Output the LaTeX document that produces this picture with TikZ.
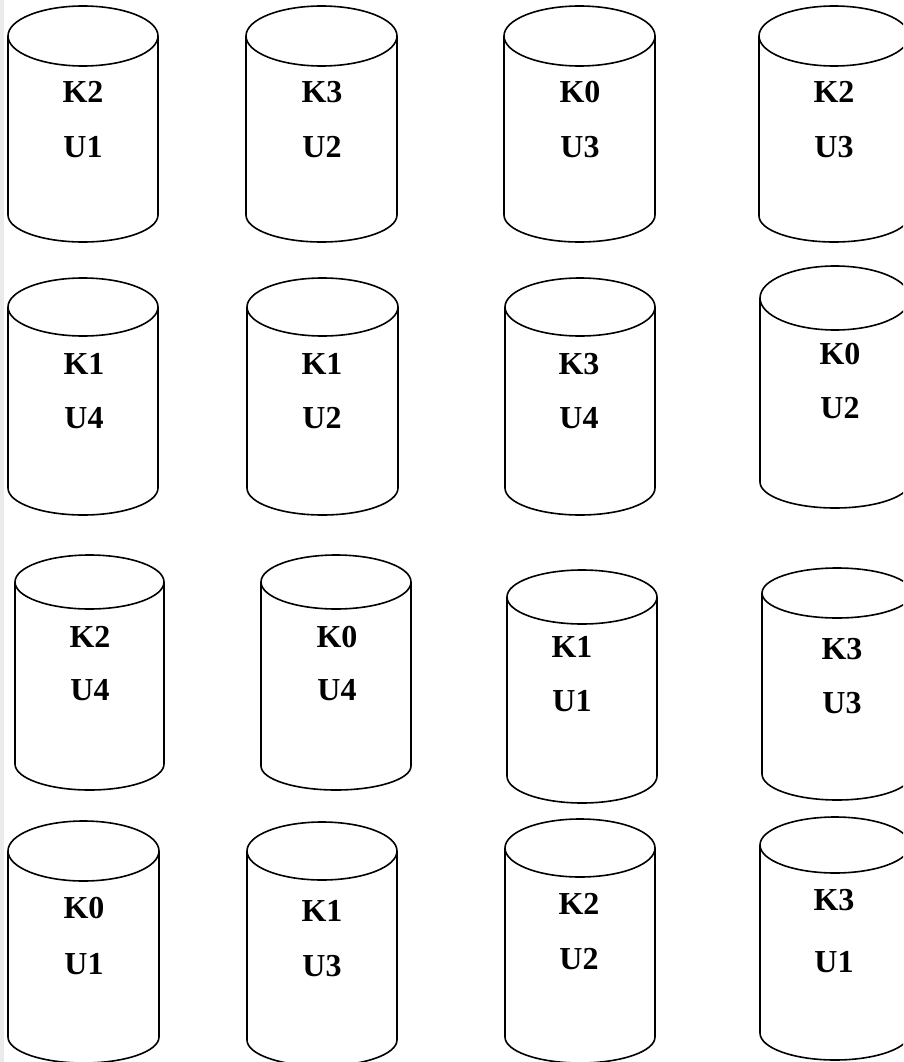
\documentclass[tikz,border=0pt]{standalone}
\usepackage{fontspec}
\setmainfont{Liberation Serif}
\tikzset{
  cylline/.style={line width=1.6pt, draw=black, fill=white},
  lbl/.style={font=\fontsize{32}{34}\selectfont\bfseries, inner sep=0pt, anchor=center},
}
% #1 L, #2 R, #3 top, #4 mid, #5 side bottom, #6 bottom
\newcommand{\mycyl}[6]{%
  \pgfmathsetmacro{\cx}{(#1+#2)/2}%
  \pgfmathsetmacro{\rx}{(#2-#1)/2}%
  \pgfmathsetmacro{\rt}{#4-#3}%
  \pgfmathsetmacro{\rb}{#6-#5}%
  \draw[cylline] (#1,#4) -- (#1,#5) arc[start angle=180, end angle=0, x radius=\rx, y radius=\rb] -- (#2,#4);
  \draw[cylline] (\cx,#4) ellipse[x radius=\rx, y radius=\rt];
}
\begin{document}
\begin{tikzpicture}[x=1pt,y=-1pt]
\useasboundingbox (0,0) rectangle (903,1062);
\clip (0,0) rectangle (903,1062);
\fill[black!8] (0,0) rectangle (4,1062);
% row 1
\mycyl{8}{158}{6}{36}{215}{242}
\mycyl{246}{397}{6}{36}{215}{242}
\mycyl{504}{655}{6}{36}{215}{242}
\mycyl{759}{909}{6}{36}{216}{242}
\node[lbl] (k1) at (83,92) {K2};  \node[lbl] (u1) at (83,147) {U1};
\node[lbl] (k2) at (322,92) {K3}; \node[lbl] (u2) at (322,147) {U2};
\node[lbl] (k3) at (580,92) {K0}; \node[lbl] (u3) at (580,147) {U3};
\node[lbl] (k4) at (834,92) {K2}; \node[lbl] (u4) at (834,147) {U3};
% row 2
\mycyl{8}{158}{278}{307}{488}{515}
\mycyl{247}{398}{278}{307}{488}{515}
\mycyl{505}{655}{278}{307}{488}{515}
\mycyl{760}{910}{266}{298}{482}{508}
\node[lbl] (k5) at (84,364) {K1};  \node[lbl] (u5) at (84,418) {U4};
\node[lbl] (k6) at (322,364) {K1}; \node[lbl] (u6) at (322,418) {U2};
\node[lbl] (k7) at (579,364) {K3}; \node[lbl] (u7) at (579,418) {U4};
\node[lbl] (k8) at (840,354) {K0}; \node[lbl] (u8) at (840,408) {U2};
% row 3
\mycyl{15}{164}{555}{582}{764}{790}
\mycyl{261}{411}{555}{582}{766}{790}
\mycyl{507}{657}{570}{597}{776}{803}
\mycyl{762}{912}{568}{593}{774}{800}
\node[lbl] (k9) at (90,637) {K2};   \node[lbl] (u9) at (90,690) {U4};
\node[lbl] (k10) at (337,637) {K0}; \node[lbl] (u10) at (337,690) {U4};
\node[lbl] (k11) at (572,647) {K1}; \node[lbl] (u11) at (572,701) {U1};
\node[lbl] (k12) at (842,649) {K3}; \node[lbl] (u12) at (842,703) {U3};
% row 4
\mycyl{8}{159}{821}{851}{1037}{1063}
\mycyl{247}{397}{822}{851}{1040}{1066}
\mycyl{505}{655}{819}{848}{1037}{1063}
\mycyl{760}{910}{817}{845}{1033}{1060}
\node[lbl] (k13) at (84,908) {K0};  \node[lbl] (u13) at (84,964) {U1};
\node[lbl] (k14) at (322,911) {K1}; \node[lbl] (u14) at (322,966) {U3};
\node[lbl] (k15) at (579,904) {K2}; \node[lbl] (u15) at (579,959) {U2};
\node[lbl] (k16) at (834,900) {K3}; \node[lbl] (u16) at (834,962) {U1};
\end{tikzpicture}
\end{document}
